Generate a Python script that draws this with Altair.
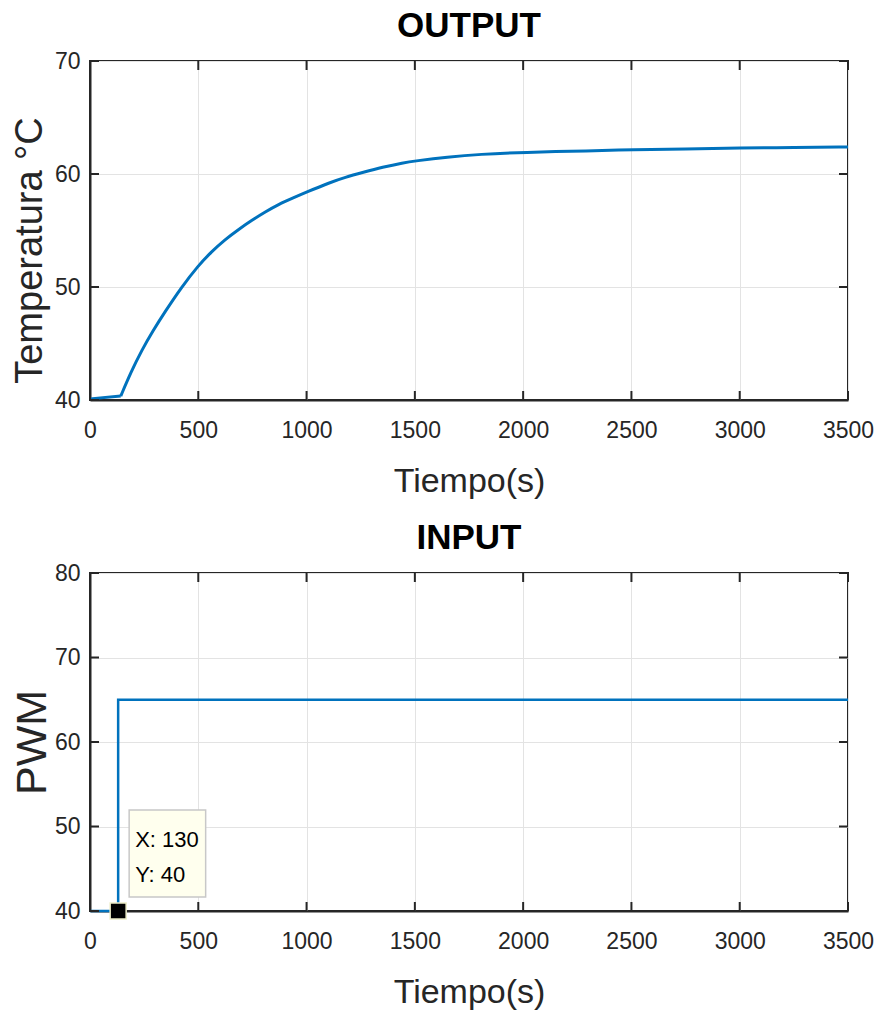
import altair as alt
import pandas as pd

# ---------------- data ----------------
time_s = [0, 142, 190, 239, 290, 346, 423, 500, 560, 623, 690, 747, 810, 869,
          940, 1000, 1108, 1177, 1262, 1350, 1447, 1500, 1650, 1801, 2000,
          2309, 2501, 2750, 3001, 3250, 3500]
temp_c = [40.1, 40.35, 42.5, 44.4, 46.1, 47.8, 50.0, 51.9, 53.1, 54.2, 55.15,
          55.9, 56.65, 57.3, 57.9, 58.4, 59.25, 59.7, 60.15, 60.6, 61.0, 61.15,
          61.5, 61.75, 61.92, 62.05, 62.15, 62.22, 62.3, 62.35, 62.4]

pwm_time = [0, 130, 130, 3500]
pwm_val = [40, 40, 65, 65]

x_ticks = [0, 500, 1000, 1500, 2000, 2500, 3000, 3500]
temp_ticks = [40, 50, 60, 70]
pwm_ticks = [40, 50, 60, 70, 80]

tip_x = [130]
tip_y = [40]
tip_lines = ["X: 130", "Y: 40"]

# ---------------- styling ----------------
W, H1, H2 = 758, 339, 338
BLUE = "#0072BD"
AX = "#262626"
SANS = "Liberation Sans, Arial, Helvetica, sans-serif"
TICK = 9

xscale = alt.Scale(domain=[0, 3500], nice=False, zero=False)
tscale = alt.Scale(domain=[40, 70], nice=False, zero=False)
pscale = alt.Scale(domain=[40, 80], nice=False, zero=False)

df_out = pd.DataFrame({"t": time_s, "temp": temp_c, "o": range(len(time_s))})
df_in = pd.DataFrame({"t": pwm_time, "pwm": pwm_val, "o": range(len(pwm_time))})
df_xt = pd.DataFrame({"v": x_ticks})


def x_axis():
    return alt.Axis(values=x_ticks, title="Tiempo(s)", format="d",
                    titleFont=SANS, titleFontSize=34, titleFontWeight="normal",
                    titleColor=AX, titlePadding=22,
                    labelFont=SANS, labelFontSize=23, labelColor=AX,
                    labelPadding=19, tickSize=0, domainColor=AX, domainWidth=2,
                    grid=True, gridColor="#e3e3e3", gridWidth=1, labelFlush=False)


def y_axis(vals, title, size, pad, **kw):
    return alt.Axis(values=vals, title=title, format="d",
                    titleFont=SANS, titleFontSize=size, titleFontWeight="normal",
                    titleColor=AX, titlePadding=pad,
                    labelFont=SANS, labelFontSize=23, labelColor=AX,
                    labelPadding=10, tickSize=0, domainColor=AX, domainWidth=2,
                    grid=True, gridColor="#e3e3e3", gridWidth=1, labelFlush=False,
                    **kw)


AX_T = y_axis(temp_ticks, "Temperatura °C", 38, 5, titleY=189)
AX_P = y_axis(pwm_ticks, "PWM", 43, 0)
AX_X = x_axis()


def tick_layers(yticks, yscale, yaxis, h):
    df_yt = pd.DataFrame({"v": yticks})
    bottom = alt.Chart(df_xt).mark_rule(color=AX, strokeWidth=2).encode(
        x=alt.X("v:Q", scale=xscale, axis=AX_X),
        y=alt.value(h), y2=alt.value(h - TICK))
    top = alt.Chart(df_xt).mark_rule(color=AX, strokeWidth=2).encode(
        x=alt.X("v:Q", scale=xscale, axis=AX_X),
        y=alt.value(0), y2=alt.value(TICK))
    left = alt.Chart(df_yt).mark_rule(color=AX, strokeWidth=2).encode(
        y=alt.Y("v:Q", scale=yscale, axis=yaxis),
        x=alt.value(0), x2=alt.value(TICK))
    right = alt.Chart(df_yt).mark_rule(color=AX, strokeWidth=2).encode(
        y=alt.Y("v:Q", scale=yscale, axis=yaxis),
        x=alt.value(W - TICK), x2=alt.value(W))
    return [bottom, top, left, right]


title_kw = dict(font=SANS, fontSize=35, fontWeight="bold", color="black",
                anchor="middle", offset=6)

# ---------------- OUTPUT ----------------
base_out = alt.Chart(df_out).encode(
    x=alt.X("t:Q", scale=xscale, axis=AX_X),
    y=alt.Y("temp:Q", scale=tscale, axis=AX_T),
    order="o:Q")
# flat start before the step (straight), then the smooth rise
seg_flat = base_out.transform_filter("datum.o <= 1").mark_line(
    color=BLUE, strokeWidth=3)
seg_rise = base_out.transform_filter("datum.o >= 1").mark_line(
    color=BLUE, strokeWidth=3, interpolate="basis")

top_chart = alt.layer(seg_flat, seg_rise,
                      *tick_layers(temp_ticks, tscale, AX_T, H1)).properties(
    width=W, height=H1, title=alt.TitleParams("OUTPUT", **title_kw))

# ---------------- INPUT ----------------
line_in = alt.Chart(df_in).mark_line(color=BLUE, strokeWidth=2.5).encode(
    x=alt.X("t:Q", scale=xscale, axis=AX_X),
    y=alt.Y("pwm:Q", scale=pscale, axis=AX_P),
    order="o:Q")

df_tip = pd.DataFrame({"x": tip_x, "y": tip_y})
tip_box = alt.Chart(df_tip).mark_rect(
    fill="#FFFFEE", stroke="#C8C8C8", strokeWidth=1.5, clip=False,
    xOffset=11, x2Offset=87.5, yOffset=-101, y2Offset=-14).encode(
    x=alt.X("x:Q", scale=xscale, axis=AX_X), x2="x:Q",
    y=alt.Y("y:Q", scale=pscale, axis=AX_P), y2="y:Q")

tip_texts = []
for i, line in enumerate(tip_lines):
    dft = pd.DataFrame({"x": tip_x, "y": tip_y, "s": [line]})
    tip_texts.append(alt.Chart(dft).mark_text(
        font=SANS, fontSize=22, color="black", align="left",
        baseline="alphabetic", dx=17, dy=-64 + 35 * i, clip=False).encode(
        x=alt.X("x:Q", scale=xscale, axis=AX_X),
        y=alt.Y("y:Q", scale=pscale, axis=AX_P), text="s:N"))

tip_marker = alt.Chart(df_tip).mark_square(
    size=256, filled=True, color="black", stroke="#EDEDC8", strokeWidth=1.5,
    opacity=1, clip=False).encode(
    x=alt.X("x:Q", scale=xscale, axis=AX_X),
    y=alt.Y("y:Q", scale=pscale, axis=AX_P))

bottom_chart = alt.layer(line_in, *tick_layers(pwm_ticks, pscale, AX_P, H2),
                         tip_box, *tip_texts, tip_marker).properties(
    width=W, height=H2, title=alt.TitleParams("INPUT", **title_kw))

chart = alt.vconcat(top_chart, bottom_chart, spacing=21).properties(
    padding={"left": 10, "top": 8, "right": 1, "bottom": 2},
    background="white"
).configure_view(stroke=AX, strokeWidth=2)

chart.save("out.html", embed_options={"renderer": "svg", "actions": False})
